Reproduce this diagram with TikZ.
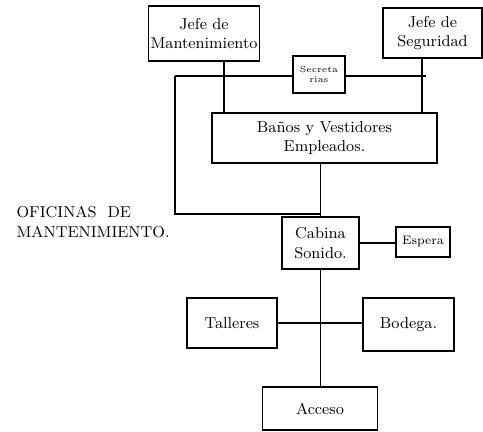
\documentclass[tikz,border=0pt]{standalone}
\usetikzlibrary{positioning}

\begin{document}
\begin{tikzpicture}[x=0.02cm,y=-0.02cm,thick,
    sala/.style={draw,inner sep=1pt,align=center,font=\small}]
      \useasboundingbox (0,0) rectangle (483,432);
      % recintos
      \node[sala,minimum width=2.2cm,minimum height=1.1cm] (jm) at (204,33.5) {Jefe de\\Mantenimiento};
      \node[sala,minimum width=1.98cm,minimum height=1.0cm] (js) at (432.5,33) {Jefe de\\Seguridad};
      \node[sala,font=\tiny,minimum width=1.04cm,minimum height=0.74cm] (sec) at (319,74.5) {Secreta\\rias};
      \node[sala,minimum width=4.5cm,minimum height=1.0cm] (banos) at (324.5,138) {Ba\~nos y Vestidores\\Empleados.};
      \node[sala,minimum width=1.54cm,minimum height=1.04cm] (cab) at (320.5,243) {Cabina\\Sonido.};
      \node[sala,font=\scriptsize,minimum width=1.08cm,minimum height=0.6cm] (esp) at (423,242) {Espera};
      \node[sala,minimum width=1.8cm,minimum height=1.0cm] (tal) at (232,323) {Talleres};
      \node[sala,minimum width=1.82cm,minimum height=1.06cm] (bod) at (408.5,324.5) {Bodega.};
      \node[sala,minimum width=2.3cm,minimum height=0.86cm] (acc) at (320,408.5) {Acceso};
      \node[anchor=west,align=left,font=\small] (ofi) at (10,222) {OFICINAS \ DE\\MANTENIMIENTO.};
      % circulaciones
      \coordinate (hl) at (175,76);
      \coordinate (hr) at (426,76);
      \coordinate (izq) at (175,214);
      \coordinate (jmx) at (224,0);
      \coordinate (jsx) at (422,0);
      \draw (hl) -- (hl -| sec.west);
      \draw (sec.east |- hr) -- (hr);
      \draw (hl) -- (izq) -- (izq -| cab.north);
      \draw (jmx |- jm.south) -- (jmx |- banos.north);
      \draw (jsx |- js.south) -- (jsx |- banos.north);
      \draw (cab.north |- banos.south) -- (cab.north);
      \draw (cab.east) -- (cab.east -| esp.west);
      \draw (cab.south) -- (cab.south |- acc.north);
      \draw (tal.east) -- (tal.east -| bod.west);
\end{tikzpicture}
\end{document}
